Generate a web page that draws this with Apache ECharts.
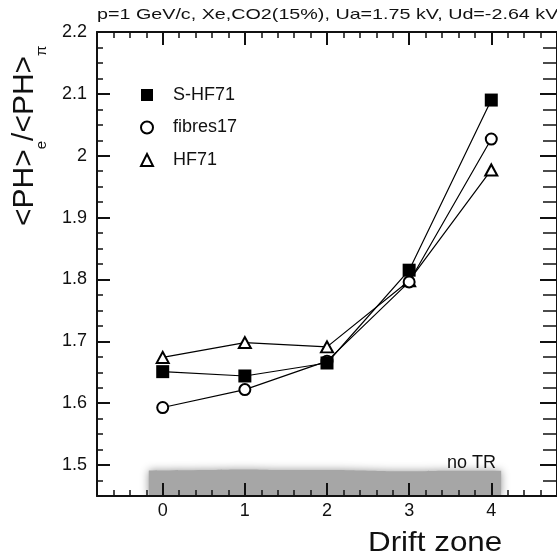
<!DOCTYPE html>
<html>
<head>
<meta charset="utf-8">
<script src="https://cdn.jsdelivr.net/npm/echarts@6/dist/echarts.min.js"></script>
<style>
  html, body { margin: 0; padding: 0; background: #fff; }
  #chart { width: 557px; height: 560px; }
</style>
</head>
<body>
<div id="chart"></div>
<script>
// Drift zones and the electron/pion pulse-height ratio for each radiator
const zones = [0, 1, 2, 3, 4];
const sHF71 = [1.651, 1.644, 1.665, 1.815, 2.090];
const fibres17 = [1.593, 1.622, 1.668, 1.796, 2.027];
const hf71 = [1.674, 1.698, 1.691, 1.798, 1.977];

// "no TR" reference band: upper edge along the drift axis
const noTRx = [-0.17, 0.5, 1.0, 1.5, 2.0, 2.5, 3.0, 3.5, 4.12];
const noTRy = [1.491, 1.492, 1.493, 1.492, 1.492, 1.491, 1.490, 1.491, 1.491];

// Axis ranges and tick positions
const xRange = [-0.8, 4.8];
const yRange = [1.45, 2.2];
const xMajor = [0, 1, 2, 3, 4];
const yMajor = [1.5, 1.6, 1.7, 1.8, 1.9, 2.0, 2.1, 2.2];
const xMinorStep = 0.2;
const yMinorStep = 0.025;

const FONT = '"Liberation Sans", Arial, Helvetica, sans-serif';
const INK = '#111';

function minorTicks(range, step, majors) {
  const out = [];
  const n = Math.round((range[1] - range[0]) / step);
  for (let i = 0; i <= n; i++) {
    const v = Math.round((range[0] + i * step) * 1000) / 1000;
    if (!majors.some(m => Math.abs(m - v) < 1e-6)) out.push(v);
  }
  return out;
}
const xMinor = minorTicks(xRange, xMinorStep, xMajor);
const yMinor = minorTicks(yRange, yMinorStep, yMajor);

function axis(range, position, ticks, len, width, showLine, labels, margin) {
  return {
    type: 'value',
    position: position,
    min: range[0],
    max: range[1],
    z: 10,
    axisLine: { show: showLine, onZero: false, lineStyle: { color: INK, width: 2 } },
    axisTick: { show: true, inside: true, length: len, customValues: ticks,
                lineStyle: { color: INK, width: width } },
    axisLabel: labels
      ? { show: true, customValues: labels, margin: margin, color: INK,
          fontSize: 18, fontFamily: FONT }
      : { show: false },
    splitLine: { show: false }
  };
}

const chart = echarts.init(document.getElementById('chart'), null, { renderer: 'canvas' });

const markerLine = { color: '#000', width: 1.2 };

chart.setOption({
  animation: false,
  backgroundColor: '#fff',
  grid: { left: 97, right: -7, top: 32, bottom: 64, containLabel: false },
  xAxis: [
    axis(xRange, 'bottom', xMajor, 13, 2, true, xMajor, 6),
    axis(xRange, 'bottom', xMinor, 6, 1.5, false, null),
    axis(xRange, 'top', xMajor, 13, 2, true, null),
    axis(xRange, 'top', xMinor, 6, 1.5, false, null)
  ],
  yAxis: [
    axis(yRange, 'left', yMajor, 13, 2, true, yMajor, 10),
    axis(yRange, 'left', yMinor, 6, 1.5, false, null),
    axis(yRange, 'right', yMajor, 17, 2, true, null),
    axis(yRange, 'right', yMinor, 14, 1.5, false, null)
  ],
  legend: {
    orient: 'vertical',
    left: 140,
    top: 86,
    padding: 0,
    itemWidth: 12,
    itemHeight: 12,
    itemGap: 14.5,
    textStyle: { fontSize: 18, fontFamily: FONT, color: INK, padding: [0, 0, 0, 15] },
    data: [
      { name: 'S-HF71', icon: 'rect' },
      { name: 'fibres17', icon: 'emptyCircle' },
      { name: 'HF71', icon: 'emptyTriangle' }
    ]
  },
  graphic: [
    {
      type: 'text', x: 97, y: 15.2, scaleX: 1.36,
      style: { text: 'p=1 GeV/c, Xe,CO2(15%), Ua=1.75 kV, Ud=-2.64 kV',
               fontSize: 14.5, fontFamily: FONT, fill: INK,
               align: 'left', verticalAlign: 'middle' }
    },
    {
      type: 'text', x: 9.6, y: 226, rotation: Math.PI / 2,
      style: {
        text: '{m|<PH>}{s|e}{m|/<PH>}{s|π}',
        align: 'left', verticalAlign: 'top', fill: INK,
        rich: {
          m: { fontSize: 30, lineHeight: 30, verticalAlign: 'top', fontFamily: FONT, fill: INK },
          s: { fontSize: 15, lineHeight: 15, verticalAlign: 'top', padding: [25, 0, 0, 0],
               fontFamily: FONT, fill: INK }
        }
      }
    },
    {
      type: 'text', x: 368, y: 543.3, scaleX: 1.12,
      style: { text: 'Drift zone', fontSize: 28, fontFamily: FONT, fill: INK,
               align: 'left', verticalAlign: 'middle' }
    }
  ],
  series: [
    {
      name: 'no TR',
      type: 'line',
      z: 1,
      smooth: true,
      symbol: 'none',
      silent: true,
      data: noTRx.map((x, i) => [x, noTRy[i]]),
      lineStyle: { width: 0 },
      areaStyle: { origin: 'start', color: '#a6a6a6', opacity: 1,
                   shadowBlur: 9, shadowColor: 'rgba(150,150,150,1)' },
      markPoint: {
        symbol: 'circle', symbolSize: 0,
        label: { show: true, position: 'inside', formatter: 'no TR',
                 fontSize: 18, fontFamily: FONT, color: INK },
        data: [{ coord: [3.76, 1.5026] }]
      }
    },
    {
      name: 'HF71',
      type: 'line',
      data: zones.map((z, i) => [z, hf71[i]]),
      symbol: 'emptyTriangle',
      symbolSize: [12, 11],
      lineStyle: markerLine,
      itemStyle: { color: '#000', borderWidth: 1.3 }
    },
    {
      name: 'fibres17',
      type: 'line',
      data: zones.map((z, i) => [z, fibres17[i]]),
      symbol: 'emptyCircle',
      symbolSize: 11,
      lineStyle: markerLine,
      itemStyle: { color: '#000', borderWidth: 1.3 }
    },
    {
      name: 'S-HF71',
      type: 'line',
      data: zones.map((z, i) => [z, sHF71[i]]),
      symbol: 'rect',
      symbolSize: 13,
      lineStyle: markerLine,
      itemStyle: { color: '#000' }
    }
  ]
});
</script>
</body>
</html>
